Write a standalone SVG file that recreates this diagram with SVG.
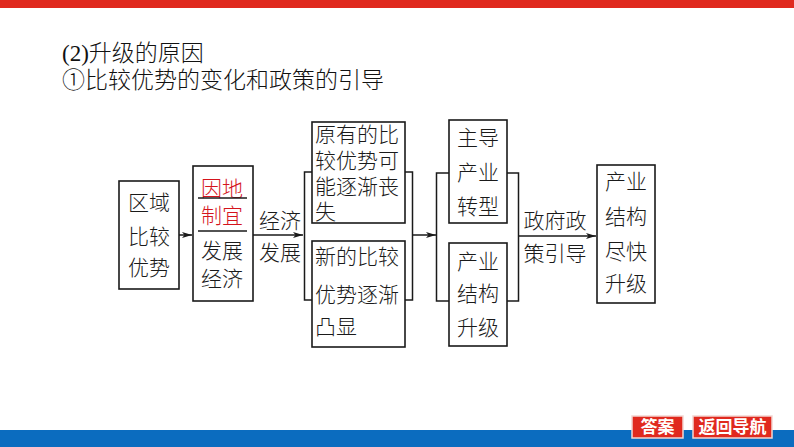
<svg xmlns="http://www.w3.org/2000/svg" width="794" height="447" viewBox="0 0 794 447">
<defs>
<style>
.t{font-family:"Liberation Serif","Noto Sans CJK SC",serif;font-size:23px;fill:#111;font-weight:300}
.n{font-family:"Noto Sans CJK SC",sans-serif;font-size:21px;fill:#1a1a1a;font-weight:300}
.red{fill:#d4141c}
.box{fill:#fff;stroke:#1a1a1a;stroke-width:1.6}
.ln{fill:none;stroke:#1a1a1a;stroke-width:1.5}
.btn{fill:#e0291e;stroke:#f3d6d2;stroke-width:1.5}
.bt{font-family:"Noto Sans CJK SC",sans-serif;font-size:17px;font-weight:bold;fill:#fff}
</style>
<marker id="ah" viewBox="0 0 10 6" refX="10" refY="3" markerWidth="10" markerHeight="6" markerUnits="userSpaceOnUse" orient="auto">
<path d="M0,0 L10,3 L0,6 L2.5,3 Z" fill="#1a1a1a"/>
</marker>
</defs>
<rect x="0" y="0" width="794" height="8" fill="#e0291e"/>
<rect x="0" y="430" width="794" height="17" fill="#0b6cbf"/>
<text class="t" x="62" y="61">(2)升级的原因</text>
<text class="t" x="62" y="88">①比较优势的变化和政策的引导</text>
<g id="connectors">
<line class="ln" x1="179" y1="235" x2="192" y2="235" marker-end="url(#ah)"/>
<line class="ln" x1="253" y1="235" x2="303" y2="235" marker-end="url(#ah)"/>
<path class="ln" d="M312,172 H304.5 V300 H312"/>
<path class="ln" d="M405,172 H412.5 V300 H405"/>
<line class="ln" x1="412.5" y1="235" x2="436" y2="235" marker-end="url(#ah)"/>
<path class="ln" d="M449,173 H436.5 V301 H449"/>
<path class="ln" d="M507,173 H518.5 V301 H507"/>
<line class="ln" x1="518.5" y1="236" x2="596" y2="236" marker-end="url(#ah)"/>
<text class="n" x="280" y="228" text-anchor="middle">经济</text>
<text class="n" x="280" y="260" text-anchor="middle">发展</text>
<text class="n" x="555" y="228" text-anchor="middle">政府政</text>
<text class="n" x="555" y="261" text-anchor="middle">策引导</text>
</g>
<g id="n1">
<rect class="box" x="119" y="181" width="60" height="108"/>
<text class="n" x="149" y="210" text-anchor="middle">区域</text>
<text class="n" x="149" y="244" text-anchor="middle">比较</text>
<text class="n" x="149" y="275" text-anchor="middle">优势</text>
</g>
<g id="n2">
<rect class="box" x="193" y="166" width="60" height="135"/>
<text class="n red" x="222" y="196" text-anchor="middle">因地</text>
<line class="ln" x1="198" y1="198" x2="247" y2="198"/>
<text class="n red" x="222" y="223" text-anchor="middle">制宜</text>
<line class="ln" x1="198" y1="231" x2="247" y2="231"/>
<text class="n" x="222" y="258" text-anchor="middle">发展</text>
<text class="n" x="222" y="286" text-anchor="middle">经济</text>
</g>
<g id="n3">
<rect class="box" x="312" y="122" width="93" height="101"/>
<text class="n" x="315" y="142">原有的比</text>
<text class="n" x="315" y="168">较优势可</text>
<text class="n" x="315" y="194">能逐渐丧</text>
<text class="n" x="315" y="219">失</text>
</g>
<g id="n4">
<rect class="box" x="312" y="241" width="93" height="106"/>
<text class="n" x="315" y="264">新的比较</text>
<text class="n" x="315" y="302">优势逐渐</text>
<text class="n" x="315" y="334">凸显</text>
</g>
<g id="n5">
<rect class="box" x="449" y="120" width="58" height="103"/>
<text class="n" x="478" y="145" text-anchor="middle">主导</text>
<text class="n" x="478" y="180" text-anchor="middle">产业</text>
<text class="n" x="478" y="214" text-anchor="middle">转型</text>
</g>
<g id="n6">
<rect class="box" x="449" y="243" width="58" height="103"/>
<text class="n" x="478" y="269" text-anchor="middle">产业</text>
<text class="n" x="478" y="301" text-anchor="middle">结构</text>
<text class="n" x="478" y="335" text-anchor="middle">升级</text>
</g>
<g id="n7">
<rect class="box" x="597" y="165" width="58" height="138"/>
<text class="n" x="626" y="189" text-anchor="middle">产业</text>
<text class="n" x="626" y="224" text-anchor="middle">结构</text>
<text class="n" x="626" y="259" text-anchor="middle">尽快</text>
<text class="n" x="626" y="291" text-anchor="middle">升级</text>
</g>
<g id="buttons">
<rect class="btn" x="632" y="416" width="51" height="22"/>
<text class="bt" x="657.5" y="433" text-anchor="middle">答案</text>
<rect class="btn" x="693" y="416" width="79" height="22"/>
<text class="bt" x="732.5" y="433" text-anchor="middle">返回导航</text>
</g>
</svg>
